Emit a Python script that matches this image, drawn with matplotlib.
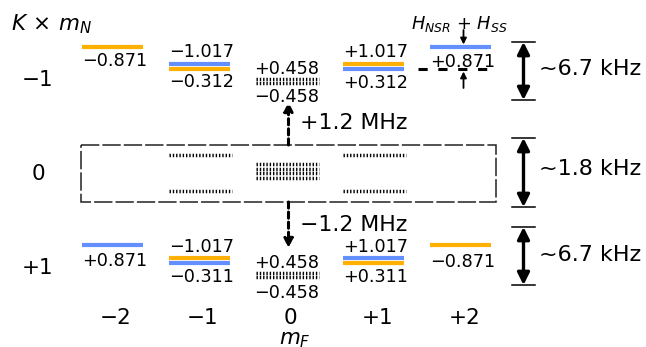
import matplotlib
matplotlib.use("Agg")
import matplotlib.pyplot as plt
from matplotlib.patches import Rectangle

plt.rcParams['font.family'] = ['DejaVu Sans']
plt.rcParams['mathtext.fontset'] = 'dejavusans'

# ---------------- data ----------------
mF_values = [-2, -1, 0, 1, 2]
mF_labels = ['\u22122', '\u22121', '0', '+1', '+2']
KmN_labels = ['\u22121', '0', '+1']
KmN_label_y = [78, 172, 266]

BLUE = '#648FFF'
ORANGE = '#FFB000'

# coloured hyperfine levels: (mF, schematic height, colour)
level_mF = [-2, -1, -1, 1, 1, 2,
            -2, -1, -1, 1, 1, 2]
level_y = [47, 63.7, 69.2, 63.7, 69.0, 46.8,
           245, 257.7, 262.5, 257.8, 262.5, 245]
level_color = [ORANGE, BLUE, ORANGE, ORANGE, BLUE, BLUE,
               BLUE, ORANGE, BLUE, BLUE, ORANGE, ORANGE]

# dotted (unresolved) levels
dotted_mF = [0, 0,
             -1, -1, 1, 1, 0, 0, 0, 0,
             0, 0]
dotted_y = [78.5, 82.5,
            155, 191, 155, 191, 164, 168.5, 173, 177.5,
            272.5, 277]

# level value labels (text, mF, y)
val_text = ['\u22120.871', '\u22121.017', '\u22120.312', '+0.458', '\u22120.458',
            '+1.017', '+0.312', '+0.871',
            '+0.871', '\u22121.017', '\u22120.311', '+0.458', '\u22120.458',
            '+1.017', '+0.311', '\u22120.871']
val_mF = [-2, -1, -1, 0, 0, 1, 1, 2,
          -2, -1, -1, 0, 0, 1, 1, 2]
val_y = [59, 50, 80, 66.5, 95, 50, 81, 60,
         258.5, 245, 275, 261.5, 291.5, 245, 275, 260]

# splitting brackets on the right
bracket_top = [42, 138, 227]
bracket_bot = [100, 207, 285]
bracket_text = ['~6.7 kHz', '~1.8 kHz', '~6.7 kHz']
bracket_text_y = [66.5, 167, 253]

# ---------------- figure ----------------
X0, DX = 286.5, 87.1          # pixel position of mF=0 and spacing
def px(x):
    return (x - X0) / DX

fig = plt.figure(figsize=(6.46, 3.47), dpi=100)
ax = fig.add_axes([0, 0, 1, 1])
ax.set_xlim(px(0), px(646))
ax.set_ylim(347, 0)
ax.axis('off')

HW = 0.35  # half-width of a level line

for m, y, c in zip(level_mF, level_y, level_color):
    ax.plot([m - HW, m + HW], [y, y], color=c, lw=3.0, solid_capstyle='butt')

for m, y in zip(dotted_mF, dotted_y):
    ax.plot([m - HW, m + HW + 0.02], [y, y], color='black', lw=2.5,
            dashes=(0.4, 0.55), dash_capstyle='butt')

for t, m, y in zip(val_text, val_mF, val_y):
    xo = -0.37 if m == 0 else -HW
    ax.text(m + xo, y, t, fontsize=12.7, ha='left', va='center_baseline')

# unperturbed reference (dashed) at mF=+2, K*mN=-1
ax.plot([2 - 0.49, 2 + HW], [69, 69], color='black', lw=2.2,
        dashes=(3, 3.5), dash_capstyle='butt')
ax.text(px(459), 21.5, r'$H_{NSR}$ + $H_{SS}$', fontsize=12.8,
        ha='center', va='center_baseline')
ax.annotate('', xy=(px(463.5), 44.5), xytext=(px(463.5), 30),
            arrowprops=dict(arrowstyle='-|>', lw=1.3, color='black',
                            mutation_scale=9, shrinkA=0, shrinkB=0))
ax.annotate('', xy=(px(463.5), 71.5), xytext=(px(463.5), 88),
            arrowprops=dict(arrowstyle='-|>', lw=1.3, color='black',
                            mutation_scale=9, shrinkA=0, shrinkB=0))

# dashed box around K*mN = 0
ax.add_patch(Rectangle((px(81), 145), px(496) - px(81), 202 - 145,
                       fill=False, edgecolor='#222222', lw=1.1,
                       linestyle=(0, (12, 2))))

# MHz arrows
xa = px(288.5)
ax.annotate('', xy=(xa, 102), xytext=(xa, 145),
            arrowprops=dict(arrowstyle='-|>', lw=2.2, color='black',
                            linestyle=(0, (2, 1.3)), mutation_scale=13,
                            shrinkA=0, shrinkB=0))
ax.annotate('', xy=(xa, 248), xytext=(xa, 202),
            arrowprops=dict(arrowstyle='-|>', lw=2.2, color='black',
                            linestyle=(0, (2, 1.3)), mutation_scale=13,
                            shrinkA=0, shrinkB=0))
ax.text(px(300), 120.5, '+1.2 MHz', fontsize=15.8, ha='left', va='center_baseline')
ax.text(px(300), 223, '\u22121.2 MHz', fontsize=15.8, ha='left', va='center_baseline')

# brackets
xb = px(523.5)
for yt, yb, t, ty in zip(bracket_top, bracket_bot, bracket_text, bracket_text_y):
    ax.plot([px(512), px(535)], [yt, yt], color='black', lw=1.1)
    ax.plot([px(512), px(535)], [yb, yb], color='black', lw=1.1)
    ax.annotate('', xy=(xb, yt), xytext=(xb, yb),
                arrowprops=dict(arrowstyle='<|-|>', lw=2.4, color='black',
                                mutation_scale=18, shrinkA=0, shrinkB=0))
    ax.text(px(539), ty, t, fontsize=16, ha='left', va='center_baseline')

# axis-like labels
for m, lab in zip(mF_values, mF_labels):
    ax.text(m + 0.04, 316, lab, fontsize=15.5, ha='center', va='center_baseline')
ax.text(px(295), 337, r'$m_F$', fontsize=15.5, ha='center', va='center_baseline')

for lab, y in zip(KmN_labels, KmN_label_y):
    ax.text(px(38), y, lab, fontsize=15.5, ha='center', va='center_baseline')
ax.text(px(11), 21, r'$K\,\times\,m_N$', fontsize=15.5, ha='left', va='center_baseline')

fig.savefig('out.png', dpi=100)
